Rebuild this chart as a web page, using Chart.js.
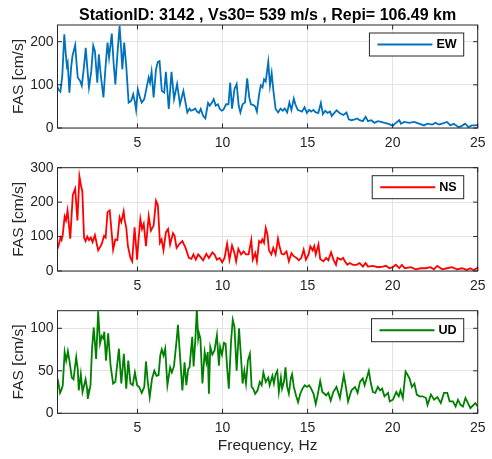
<!DOCTYPE html>
<html><head><meta charset="utf-8">
<script src="https://cdn.jsdelivr.net/npm/chart.js@4.4.1/dist/chart.umd.min.js"></script>
<style>
html,body{margin:0;padding:0;background:#fff;}
#wrap{position:relative;width:492px;height:459px;}
canvas{position:absolute;left:0;top:0;}
</style></head><body>
<div id="wrap">
<canvas id="c1" width="492" height="459"></canvas>
<canvas id="c2" width="492" height="459"></canvas>
<canvas id="c3" width="492" height="459"></canvas>
</div>
<script>
const titleText = 'StationID: 3142 , Vs30= 539 m/s , Repi= 106.49 km';
const xTitle = 'Frequency, Hz';
const yTitle = 'FAS [cm/s]';
const xTicks = [5, 10, 15, 20, 25];
const ewYTicks = [0, 100, 200];
const nsYTicks = [0, 100, 200, 300];
const udYTicks = [0, 50, 100];

const ewFreq = [0.30,0.38,0.47,0.58,0.70,0.78,0.85,0.90,1.00,1.10,1.18,1.34,1.42,1.49,1.63,1.73,1.85,1.96,2.05,2.15,2.28,2.40,2.50,2.64,2.73,2.85,3.00,3.12,3.24,3.33,3.49,3.60,3.70,3.82,3.95,4.03,4.11,4.22,4.34,4.48,4.63,4.75,4.85,4.92,5.02,5.14,5.25,5.40,5.54,5.66,5.74,5.83,5.95,6.09,6.20,6.30,6.43,6.57,6.67,6.84,7.00,7.15,7.33,7.50,7.70,7.93,8.06,8.15,8.28,8.40,8.50,8.62,8.72,8.86,8.99,9.15,9.25,9.38,9.48,9.60,9.73,9.83,9.94,10.05,10.21,10.35,10.45,10.56,10.70,10.83,10.95,11.05,11.18,11.32,11.45,11.57,11.67,11.82,11.92,12.02,12.15,12.25,12.35,12.44,12.54,12.69,12.79,12.89,12.98,13.12,13.27,13.41,13.54,13.66,13.80,13.93,14.05,14.19,14.28,14.42,14.54,14.67,14.82,14.96,15.09,15.21,15.34,15.48,15.63,15.78,15.90,16.03,16.18,16.32,16.42,16.57,16.71,16.90,17.10,17.29,17.42,17.58,17.77,17.92,18.06,18.25,18.41,18.55,18.74,18.93,19.13,19.32,19.52,19.71,19.86,20.00,20.19,20.39,20.49,20.68,20.97,21.26,21.55,21.84,22.04,22.33,22.52,22.71,22.91,23.20,23.39,23.59,23.88,24.07,24.26,24.46,24.65,24.94,25.00];
const ewFas = [95,88,84,120,217,175,144,151,82,140,167,192,150,117,109,98,140,186,140,94,130,191,178,105,171,120,71,140,198,163,219,150,101,170,236,190,136,198,144,59,63,78,60,42,90,71,59,67,94,117,105,130,71,136,153,155,86,82,130,44,130,67,102,55,86,36,45,40,42,45,38,35,44,28,22,58,52,59,67,52,55,45,40,42,55,55,105,45,90,102,52,36,55,59,115,71,55,53,50,38,78,99,94,113,108,153,98,127,90,44,36,45,40,45,36,59,42,68,55,42,40,38,48,35,42,38,42,36,35,58,32,40,35,38,28,35,41,34,30,36,20,18,20,22,18,16,26,16,18,12,16,14,12,10,8,5,12,18,10,14,12,14,10,6,10,8,12,8,10,14,6,10,2,5,10,2,6,6,8];

const nsFreq = [0.30,0.40,0.48,0.54,0.60,0.72,0.80,0.89,1.05,1.20,1.34,1.47,1.59,1.69,1.76,1.86,1.95,2.05,2.15,2.26,2.36,2.50,2.69,2.89,3.04,3.13,3.24,3.37,3.57,3.70,3.82,3.95,4.05,4.19,4.25,4.34,4.44,4.59,4.69,4.83,4.98,5.05,5.17,5.27,5.37,5.50,5.66,5.79,5.95,6.09,6.20,6.32,6.42,6.53,6.67,6.80,6.92,7.09,7.18,7.30,7.44,7.64,7.83,8.02,8.17,8.29,8.43,8.57,8.70,8.86,9.05,9.20,9.40,9.53,9.67,9.83,9.98,10.12,10.27,10.41,10.56,10.70,10.80,10.93,11.09,11.24,11.38,11.53,11.69,11.78,11.92,12.02,12.15,12.27,12.34,12.44,12.54,12.64,12.73,12.87,12.98,13.12,13.26,13.35,13.47,13.60,13.76,13.90,14.05,14.19,14.35,14.48,14.63,14.77,14.90,15.06,15.16,15.30,15.39,15.48,15.64,15.74,15.93,16.09,16.22,16.38,16.52,16.67,16.76,16.95,17.09,17.19,17.34,17.48,17.67,17.87,18.06,18.25,18.41,18.55,18.84,19.13,19.42,19.61,19.81,20.00,20.19,20.39,20.54,20.72,21.07,21.36,21.65,21.94,22.23,22.42,22.62,22.91,23.20,23.49,23.78,24.07,24.36,24.55,24.75,24.94,25.00];
const nsFas = [64,82,97,90,102,158,147,176,94,221,239,147,275,246,231,97,87,100,90,97,84,104,60,77,102,97,171,176,62,92,90,156,142,173,147,127,72,38,28,127,33,82,151,122,137,72,159,117,132,204,191,82,92,60,112,122,77,110,102,67,77,87,67,38,35,48,33,48,41,31,50,38,54,48,33,38,25,38,79,33,74,52,28,64,48,57,48,48,90,33,52,28,87,82,92,82,125,107,60,48,67,48,94,72,50,48,57,28,52,43,38,31,38,62,33,48,72,60,72,48,77,35,28,38,31,54,33,18,38,33,38,28,18,23,18,18,23,13,23,13,15,11,13,15,8,11,18,8,18,8,11,5,8,8,11,5,15,5,8,11,5,8,3,8,3,8,6];

const udFreq = [0.30,0.36,0.45,0.52,0.61,0.72,0.81,0.91,1.00,1.14,1.24,1.40,1.49,1.55,1.67,1.77,1.95,2.04,2.08,2.24,2.33,2.43,2.57,2.69,2.80,2.90,3.00,3.05,3.15,3.28,3.42,3.57,3.70,3.91,4.05,4.20,4.34,4.46,4.59,4.72,4.85,4.98,5.10,5.25,5.40,5.50,5.60,5.72,5.85,5.99,6.12,6.24,6.34,6.43,6.53,6.63,6.76,6.92,7.02,7.15,7.31,7.38,7.50,7.64,7.77,7.87,7.98,8.06,8.22,8.30,8.40,8.49,8.57,8.62,8.70,8.82,8.95,9.05,9.13,9.20,9.28,9.40,9.53,9.67,9.79,9.86,9.97,10.08,10.18,10.27,10.37,10.50,10.60,10.70,10.83,10.97,11.08,11.18,11.28,11.38,11.49,11.61,11.71,11.80,11.92,12.06,12.19,12.30,12.40,12.54,12.69,12.77,12.93,13.02,13.12,13.22,13.31,13.43,13.50,13.62,13.70,13.80,13.90,14.02,14.09,14.19,14.32,14.44,14.57,14.70,14.83,14.96,15.09,15.21,15.35,15.48,15.59,15.74,15.87,15.99,16.09,16.22,16.36,16.51,16.70,16.90,17.13,17.25,17.38,17.58,17.79,17.94,18.08,18.24,18.35,18.47,18.60,18.72,18.84,18.98,19.13,19.26,19.38,19.52,19.73,19.83,20.02,20.21,20.36,20.46,20.60,20.76,20.88,20.99,21.13,21.28,21.42,21.57,21.76,21.96,22.05,22.25,22.44,22.63,22.83,23.02,23.21,23.35,23.54,23.70,23.84,23.99,24.13,24.28,24.43,24.57,24.76,24.86,25.00];
const udFas = [41,35,24,27,33,72,62,73,62,42,40,66,52,27,46,25,40,29,17,33,76,101,64,120,82,91,88,96,62,94,56,35,37,76,35,70,29,62,35,33,48,33,31,24,31,61,38,19,40,50,44,45,68,75,68,76,33,54,48,56,88,104,68,27,60,33,52,54,90,55,86,122,88,94,88,35,72,60,72,23,78,69,74,92,56,78,69,83,82,54,29,84,110,102,50,100,68,35,50,35,62,70,31,29,23,27,37,33,48,37,42,33,44,35,46,50,25,42,29,38,54,31,23,42,46,31,21,13,23,29,33,31,33,29,23,11,21,38,25,23,21,24,15,25,31,18,45,31,14,27,31,24,37,41,33,41,50,35,25,24,31,27,29,20,24,14,16,25,20,27,18,49,45,41,31,35,22,20,20,18,10,22,16,19,12,24,24,14,14,8,16,10,8,18,12,6,10,12,8];

const FONT = "'Liberation Sans', Arial, Helvetica, sans-serif";
Chart.defaults.font.family = FONT;
const AXC = '#262626';

const framePlugin = {
  id: 'frame',
  afterDatasetsDraw(chart) {
    const {ctx, chartArea: a, scales} = chart;
    ctx.save();
    ctx.strokeStyle = AXC;
    ctx.lineWidth = 1;
    ctx.strokeRect(a.left, a.top, a.right - a.left, a.bottom - a.top);
    const L = 4.5;
    ctx.beginPath();
    scales.x.ticks.forEach(t => {
      const p = scales.x.getPixelForValue(t.value);
      ctx.moveTo(p, a.bottom); ctx.lineTo(p, a.bottom - L);
      ctx.moveTo(p, a.top); ctx.lineTo(p, a.top + L);
    });
    scales.y.ticks.forEach(t => {
      const p = scales.y.getPixelForValue(t.value);
      ctx.moveTo(a.left, p); ctx.lineTo(a.left + L, p);
      ctx.moveTo(a.right, p); ctx.lineTo(a.right - L, p);
    });
    ctx.stroke();
    // legend box
    const ds = chart.data.datasets[0];
    ctx.font = "bold 12.6px " + FONT;
    const w = ctx.measureText(ds.label).width;
    const boxR = a.right - 14, boxT = a.top + 8, boxH = 23;
    const textX = boxR - 7 - w;
    const lineE = textX - 4, lineS = lineE - 55;
    const boxL = lineS - 8;
    ctx.fillStyle = '#fff';
    ctx.fillRect(boxL, boxT, boxR - boxL, boxH);
    ctx.strokeStyle = AXC;
    ctx.lineWidth = 1;
    ctx.strokeRect(boxL, boxT, boxR - boxL, boxH);
    const cy = boxT + boxH / 2;
    ctx.strokeStyle = ds.borderColor;
    ctx.lineWidth = 2;
    ctx.beginPath(); ctx.moveTo(lineS, cy); ctx.lineTo(lineE, cy); ctx.stroke();
    ctx.fillStyle = '#000';
    ctx.textBaseline = 'middle';
    ctx.textAlign = 'left';
    ctx.fillText(ds.label, textX, cy + 0.5);
    ctx.restore();
  }
};

function makeChart(id, label, color, freq, fas, ymax, yTicks, padTop, xHeight, opts) {
  const fixTicks = arr => s => { s.ticks = arr.map(v => ({value: v})); };
  return new Chart(document.getElementById(id), {
    type: 'line',
    data: {
      datasets: [{
        label: label,
        data: freq.map((f, i) => ({x: f, y: fas[i]})),
        borderColor: color,
        borderWidth: 1.8,
        pointRadius: 0,
        tension: 0,
        fill: false
      }]
    },
    options: {
      responsive: false,
      animation: false,
      devicePixelRatio: 1,
      layout: {padding: {top: padTop, right: 9.7, left: 0, bottom: 0}},
      plugins: {
        legend: {display: false},
        tooltip: {enabled: false},
        title: opts.title ? {
          display: true, text: opts.title, fullSize: false,
          color: '#000', font: {size: 16, weight: 'bold', lineHeight: 1.2},
          padding: {top: 5.5, bottom: 0.3}
        } : {display: false}
      },
      scales: {
        x: {
          type: 'linear', min: 0.3, max: 25,
          afterBuildTicks: fixTicks(xTicks),
          afterFit: s => { s.height = xHeight; },
          grid: {color: '#e3e3e3', lineWidth: 1, drawTicks: false},
          border: {display: false},
          ticks: {color: AXC, font: {size: 14}, padding: 6.5, maxRotation: 0, autoSkip: false},
          title: opts.xTitle ? {
            display: true, text: opts.xTitle, color: AXC,
            font: {size: 15.5, lineHeight: 1.2}, padding: {top: 0, bottom: 4}
          } : {display: false}
        },
        y: {
          type: 'linear', min: 0, max: ymax,
          afterBuildTicks: fixTicks(yTicks),
          afterFit: s => { s.width = 57.5; },
          grid: {color: '#e3e3e3', lineWidth: 1, drawTicks: false},
          border: {display: false},
          ticks: {color: AXC, font: {size: 14}, padding: 4},
          title: {
            display: true, text: yTitle, color: AXC,
            font: {size: 15.5, lineHeight: 1.2}, padding: {top: 9.5, bottom: 0}
          }
        }
      }
    },
    plugins: [framePlugin]
  });
}

makeChart('c1', 'EW', '#0072BD', ewFreq, ewFas, 238.7, ewYTicks, 0, 459 - 128, {title: titleText});
makeChart('c2', 'NS', '#FF0000', nsFreq, nsFas, 300, nsYTicks, 167.7, 459 - 271, {});
makeChart('c3', 'UD', '#008000', udFreq, udFas, 120.7, udYTicks, 310.7, 459 - 413.3, {xTitle: xTitle});
</script>
</body></html>
